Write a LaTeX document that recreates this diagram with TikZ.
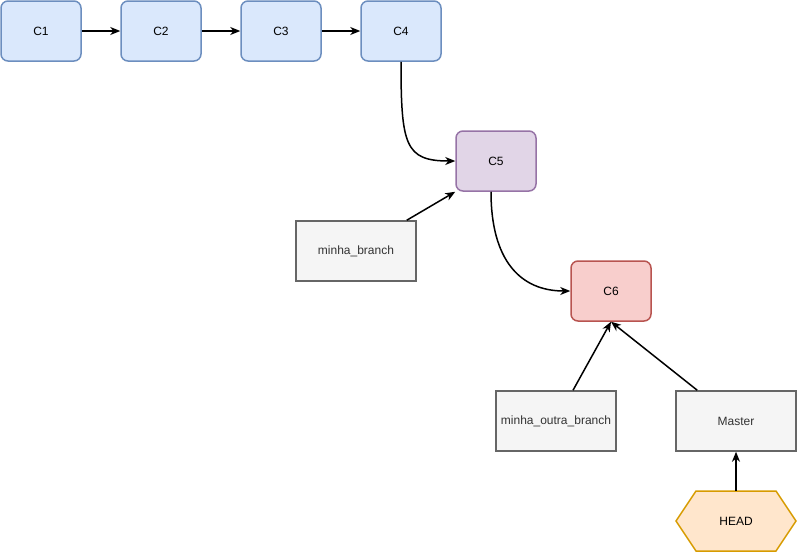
\documentclass[tikz,border=0pt]{standalone}
\usepackage{fontspec}
\setmainfont{Liberation Sans}
\usetikzlibrary{arrows.meta}
\definecolor{blueF}{HTML}{DAE8FC}\definecolor{blueD}{HTML}{6C8EBF}
\definecolor{purF}{HTML}{E1D5E7}\definecolor{purD}{HTML}{9673A6}
\definecolor{redF}{HTML}{F8CECC}\definecolor{redD}{HTML}{B85450}
\definecolor{grayF}{HTML}{F5F5F5}\definecolor{grayD}{HTML}{666666}\definecolor{grayT}{HTML}{333333}
\definecolor{orF}{HTML}{FFE6CC}\definecolor{orD}{HTML}{D79B00}
\begin{document}
\begin{tikzpicture}[x=1pt,y=-1pt,
  commit/.style={draw, line width=1.5pt, rounded corners=7pt, minimum width=80pt, minimum height=60pt, inner sep=0pt, font=\fontsize{12}{14}\selectfont},
  ref/.style={draw=grayD, fill=grayF, line width=1.5pt, minimum width=120pt, minimum height=60pt, inner sep=0pt, text=grayT, font=\fontsize{12}{14}\selectfont},
  arr/.style={line width=1.5pt, -{Stealth[length=10pt,width=8pt,inset=3pt]}}]
\useasboundingbox (0,0) rectangle (798,552);
\node[commit, fill=blueF, draw=blueD] (C1) at (41,31) {C1};
\node[commit, fill=blueF, draw=blueD] (C2) at (161,31) {C2};
\node[commit, fill=blueF, draw=blueD] (C3) at (281,31) {C3};
\node[commit, fill=blueF, draw=blueD] (C4) at (401,31) {C4};
\node[commit, fill=purF, draw=purD] (C5) at (496,161) {C5};
\node[commit, fill=redF, draw=redD] (C6) at (611,291) {C6};
\node[ref] (mb) at (356,251) {minha\_branch};
\node[ref] (mob) at (556,421) {minha\_outra\_branch};
\node[ref] (master) at (736,421) {Master};
\draw[draw=orD, fill=orF, line width=1.5pt] (696,491) -- (776,491) -- (796,521) -- (776,551) -- (696,551) -- (676,521) -- cycle;
\node[minimum width=120pt, minimum height=60pt, inner sep=0pt, font=\fontsize{12}{14}\selectfont] (head) at (736,521) {HEAD};
\draw[arr] (C1) -- (C2);
\draw[arr] (C2) -- (C3);
\draw[arr] (C3) -- (C4);
\draw[arr] (C4.south) .. controls (401,145) and (405,161) .. (C5.west);
\draw[arr] ([xshift=-10pt]mb.north east) -- (C5.south west);
\draw[arr] (C5.south west -| 491,0) .. controls (491,260) and (520,291) .. (C6.west);
\draw[arr] ([xshift=17pt]mob.north) -- (C6.south);
\draw[arr] ([xshift=22pt]master.north west) -- (C6.south);
\draw[arr] (head.north) -- (master.south);
\end{tikzpicture}
\end{document}
